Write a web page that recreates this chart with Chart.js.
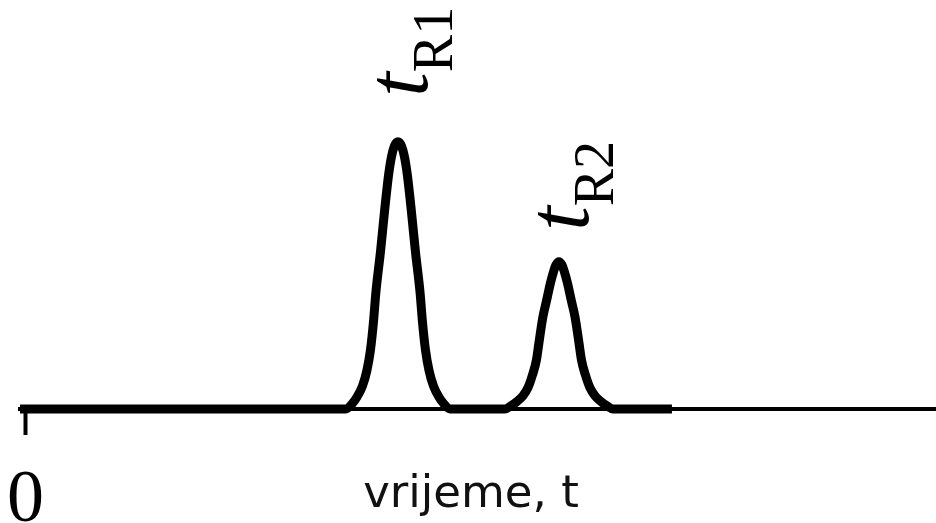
<!DOCTYPE html>
<html lang="hr">
<head>
<meta charset="UTF-8">
<title>Kromatogram</title>
<script src="https://cdn.jsdelivr.net/npm/chart.js@4.4.1/dist/chart.umd.min.js"></script>
<style>
  html, body { margin: 0; padding: 0; background: #fff; }
</style>
</head>
<body>
<canvas id="chromChart" width="936" height="523"></canvas>
<script>
// retention time (arbitrary units) and detector signal
const timeValues = [-0.6, 0, 10, 20, 30, 34.0,
  35.20, 35.86, 36.41, 37.01, 37.51, 37.89, 38.22, 38.49, 38.99, 39.43, 39.87, 40.20, 40.53, 40.91,
  41.29, 41.62, 41.95, 42.39, 42.83, 43.33, 43.60, 43.93, 44.31, 44.81, 45.41, 45.96, 46.62,
  48.5, 50.5,
  52.66, 53.32, 53.98, 54.64, 55.19, 55.68, 56.12, 56.39, 56.83, 57.22, 57.66, 57.99, 58.26, 58.59,
  58.92, 59.19, 59.52, 59.96, 60.35, 60.79, 61.06, 61.50, 61.99, 62.54, 63.20, 63.86, 64.52,
  67.5, 71.0];
const signalValues = [0, 0, 0, 0, 0, 0,
  0, 1.9, 4.5, 8.6, 14.6, 22.1, 32.6, 43.8, 58.8, 73.8, 87.3, 94.4, 98.5, 100,
  98.5, 94.4, 87.3, 73.8, 58.8, 43.8, 32.6, 22.1, 14.6, 8.6, 4.5, 1.9, 0,
  0, 0,
  0, 1.2, 2.8, 5.0, 8.0, 12.7, 18.4, 24.7, 34.5, 40.4, 47.2, 51.3, 53.9, 55.1,
  53.9, 51.3, 47.2, 40.4, 34.5, 24.7, 18.4, 12.7, 8.0, 5.0, 2.8, 1.2, 0,
  0, 0];

const peakTimes = [40.91, 58.59];
const peakSignals = [100, 55.1];
const peakNames = ['R1', 'R2'];
const xTickLabels = ['0'];
const axisTitle = 'vrijeme, t';

// pixel offsets of the rotated t_R labels from the peak tops
const labelOffsets = [[29, -45], [29, -31]];

const textPlugin = {
  id: 'chromText',
  afterDraw(chart) {
    const { ctx, chartArea } = chart;
    const xs = chart.scales.x, ys = chart.scales.y;
    ctx.save();
    ctx.fillStyle = '#000';
    ctx.textBaseline = 'alphabetic';
    peakNames.forEach((name, i) => {
      const px = xs.getPixelForValue(peakTimes[i]) + labelOffsets[i][0];
      const py = ys.getPixelForValue(peakSignals[i]) + labelOffsets[i][1];
      ctx.save();
      ctx.translate(px, py);
      ctx.rotate(-Math.PI / 2);
      ctx.font = 'italic 88px "Liberation Serif"';
      ctx.fillText('t', 0, 0);
      const w = ctx.measureText('t').width;
      ctx.font = '56px "Liberation Serif"';
      ctx.fillText(name, w, 25);
      ctx.restore();
    });
    ctx.fillStyle = '#111';
    ctx.font = '45px "DejaVu Sans"';
    ctx.textAlign = 'center';
    ctx.fillText(axisTitle, (chartArea.left + chartArea.right) / 2 - 7, 507);
    ctx.restore();
  }
};

const points = timeValues.map((t, i) => ({ x: t, y: signalValues[i] }));

new Chart(document.getElementById('chromChart').getContext('2d'), {
  type: 'line',
  data: {
    datasets: [{
      data: points,
      borderColor: '#000',
      borderWidth: 9,
      pointRadius: 0,
      cubicInterpolationMode: 'monotone',
      borderJoinStyle: 'round',
      clip: false
    }]
  },
  options: {
    responsive: false,
    animation: false,
    layout: { padding: { left: 20, right: 0, top: 8, bottom: 0 } },
    plugins: { legend: { display: false }, tooltip: { enabled: false } },
    scales: {
      x: {
        type: 'linear',
        min: -0.6,
        max: 100,
        afterBuildTicks: (scale) => { scale.ticks = [{ value: 0 }]; },
        afterFit: (scale) => {
          scale.height = 114;
          scale.paddingLeft = 0;
          scale.paddingRight = 0;
        },
        border: { display: true, color: '#000', width: 4 },
        grid: { display: true, drawOnChartArea: false, drawTicks: true, tickLength: 26, tickWidth: 4, tickColor: '#000' },
        ticks: {
          padding: 30,
          color: '#000',
          font: { family: '"Liberation Serif"', size: 74, lineHeight: 1 },
          callback: (v, i) => xTickLabels[i]
        }
      },
      y: {
        display: false,
        min: 0,
        max: 150
      }
    }
  },
  plugins: [textPlugin]
});
</script>
</body>
</html>
